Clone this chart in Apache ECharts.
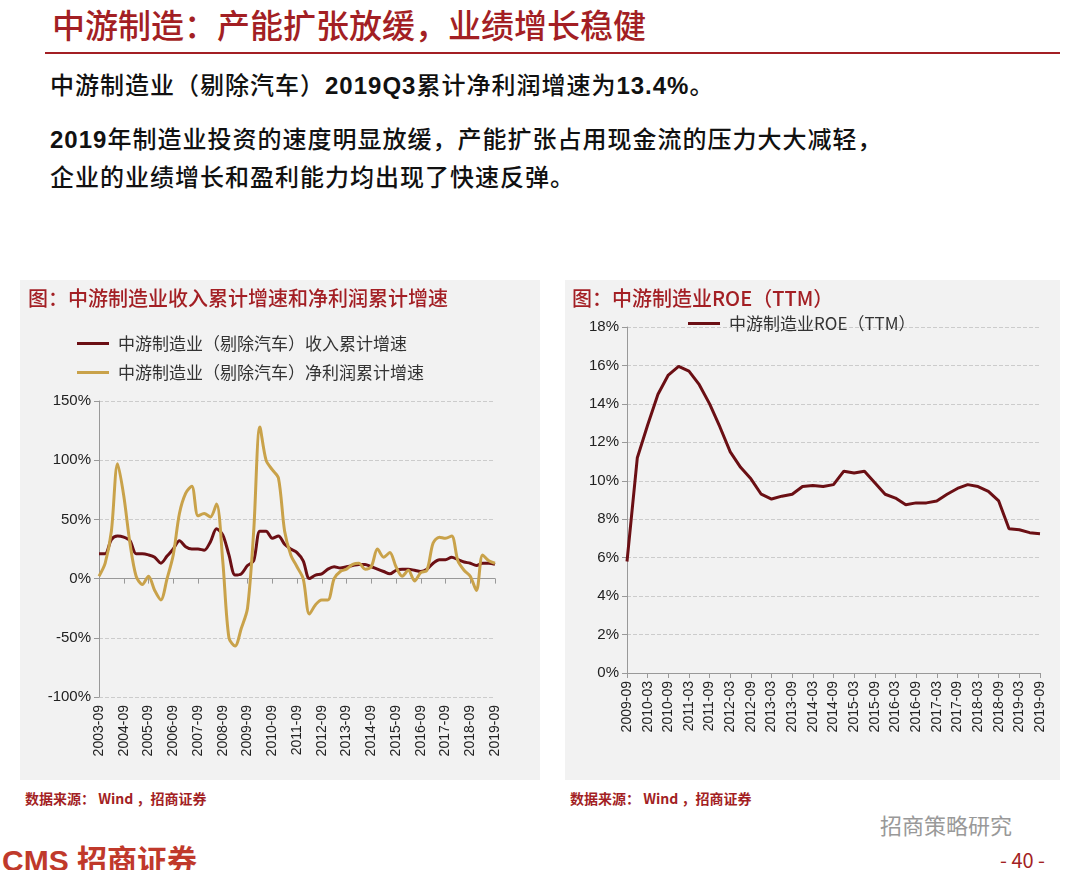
<!DOCTYPE html>
<html>
<head>
<meta charset="utf-8">
<script src="https://cdn.jsdelivr.net/npm/echarts@6/dist/echarts.min.js"></script>
<style>
  body { margin: 0; width: 1080px; height: 870px; background: #fff; font-family: "Noto Sans CJK SC", sans-serif; position: relative; overflow: hidden; }
  .abs { position: absolute; }
  #title { left: 52px; top: 0px; font-size: 33px; font-weight: 500; color: #a31f24; }
  #rule { left: 45px; top: 52px; width: 1015px; height: 2px; background: #a31f24; }
  .txt { font-size: 24px; font-weight: 500; color: #111; left: 50px; letter-spacing: 1px; }
  .txt b { font-family: "Liberation Sans"; }
  .panel { background: #f2f2f2; }
  .ptitle { font-size: 20px; color: #a31f24; font-weight: 500; }
  .src { font-size: 14px; font-weight: bold; color: #a31f24; }
</style>
</head>
<body>
<div class="abs" id="title">中游制造：产能扩张放缓，业绩增长稳健</div>
<div class="abs" id="rule"></div>
<div class="abs txt" style="top:66px">中游制造业（剔除汽车）<b>2019Q3</b>累计净利润增速为<b>13.4%</b>。</div>
<div class="abs txt" style="top:120px"><b>2019</b>年制造业投资的速度明显放缓，产能扩张占用现金流的压力大大减轻，</div>
<div class="abs txt" style="top:158px">企业的业绩增长和盈利能力均出现了快速反弹。</div>

<div class="abs panel" id="chart1" style="left:20px;top:280px;width:520px;height:500px"></div>
<div class="abs panel" id="chart2" style="left:565px;top:280px;width:495px;height:500px"></div>
<div class="abs ptitle" style="left:28px;top:283px">图：中游制造业收入累计增速和净利润累计增速</div>
<div class="abs ptitle" style="left:572px;top:283px">图：中游制造业ROE（TTM）</div>
<div class="abs src" style="left:25px;top:788px">数据来源： Wind ，招商证券</div>
<div class="abs src" style="left:570px;top:788px">数据来源： Wind ，招商证券</div>
<div class="abs" style="left:880px;top:808px;font-size:22px;color:#999">招商策略研究</div>
<div class="abs" style="left:2px;top:836px;font-size:30px;font-weight:bold;color:#c0392b;font-family:Arial">CMS <span style="font-family:'Noto Sans CJK SC'">招商证券</span></div>
<div class="abs" style="left:1000px;top:845px;font-size:20px;color:#a31f24">- 40 -</div>

<script>
// 左图：季度 2003-09 ~ 2019-09
var quarters1 = [];
for (var y = 2003; y <= 2019; y++) {
  ['03', '06', '09', '12'].forEach(function (m) {
    var k = y + '-' + m;
    if (k >= '2003-09' && k <= '2019-09') quarters1.push(k);
  });
}
var revenueGrowth = [21,21,33,36,35,32,21,21,20,18,13,19,25,32,27,25,25,24,31,42,37,20,3,4,11,15,40,40,34,36,29,25,22,15,0,3,4,8,10,9,10,11,12,12,10,8,6,4,7,8,8,7,6,8,13,16,16,18,16,14,13,11,13,13,12];
var profitGrowth = [2,13,40,97,70,30,2,-5,2,-10,-18,0,20,55,72,78,53,55,52,63,15,-50,-57,-42,-25,40,128,100,92,85,40,20,10,0,-30,-22,-18,-18,0,6,8,12,13,8,10,25,18,22,10,2,7,-2,5,7,30,35,34,36,15,7,2,-10,20,15,13];

// 右图：季度 2009-09 ~ 2019-09
var quarters2 = quarters1.slice(quarters1.indexOf('2009-09'));
var roeTTM = [5.8,11.2,12.9,14.5,15.5,15.95,15.7,15.0,14.0,12.8,11.5,10.7,10.1,9.3,9.05,9.2,9.3,9.7,9.75,9.7,9.8,10.5,10.4,10.5,9.9,9.3,9.1,8.75,8.85,8.85,8.95,9.3,9.6,9.8,9.7,9.45,8.95,7.5,7.45,7.3,7.25];

var axisLine = { lineStyle: { color: '#999' } };
var splitLine = { lineStyle: { type: 'dashed', color: '#ccc' } };
var labelFont = { color: '#222', fontSize: 15, fontFamily: 'Liberation Sans' };
var legendText = { fontSize: 17, color: '#333', fontFamily: 'Noto Sans CJK SC', padding: [0, 0, 0, 4] };

function renderGrowth() {
  var myChart = echarts.init(document.getElementById('chart1'));
  myChart.setOption({
    backgroundColor: 'transparent',
    animation: false,
    legend: {
      orient: 'vertical', left: 52, top: 50, itemGap: 12,
      itemWidth: 32, itemHeight: 3, icon: 'rect', textStyle: legendText
    },
    grid: { left: 79, right: 45, top: 121, bottom: 83 },
    xAxis: {
      type: 'category', data: quarters1, boundaryGap: false,
      axisLine: axisLine,
      axisTick: { interval: 3, lineStyle: { color: '#999' } },
      axisLabel: { interval: 3, rotate: 90, fontSize: 14, color: '#222', fontFamily: 'Liberation Sans' }
    },
    yAxis: {
      type: 'value', min: -100, max: 150, interval: 50,
      axisLine: { show: true, lineStyle: { color: '#999' } },
      axisTick: { show: true, lineStyle: { color: '#999' } },
      splitLine: splitLine,
      axisLabel: Object.assign({ formatter: '{value}%' }, labelFont)
    },
    series: [{
      name: '中游制造业（剔除汽车）收入累计增速', type: 'line', data: revenueGrowth,
      smooth: 0.3, symbol: 'none', lineStyle: { width: 3, color: '#6b0f14' }, itemStyle: { color: '#6b0f14' }
    }, {
      name: '中游制造业（剔除汽车）净利润累计增速', type: 'line', data: profitGrowth,
      smooth: 0.3, symbol: 'none', lineStyle: { width: 3, color: '#c9a24a' }, itemStyle: { color: '#c9a24a' }
    }]
  });
}

function renderRoe() {
  var myChart = echarts.init(document.getElementById('chart2'));
  myChart.setOption({
    backgroundColor: 'transparent',
    animation: false,
    legend: {
      left: 118, top: 30, itemWidth: 32, itemHeight: 3, icon: 'rect', textStyle: legendText
    },
    grid: { left: 62, right: 20, top: 47, bottom: 107 },
    xAxis: {
      type: 'category', data: quarters2, boundaryGap: false,
      axisLine: axisLine,
      axisTick: { interval: 1, lineStyle: { color: '#999' } },
      axisLabel: { interval: 1, rotate: 90, fontSize: 14, color: '#222', fontFamily: 'Liberation Sans' }
    },
    yAxis: {
      type: 'value', min: 0, max: 18, interval: 2,
      axisLine: { show: true, lineStyle: { color: '#999' } },
      axisTick: { show: true, lineStyle: { color: '#999' } },
      splitLine: splitLine,
      axisLabel: Object.assign({ formatter: '{value}%' }, labelFont)
    },
    series: [{
      name: '中游制造业ROE（TTM）', type: 'line', data: roeTTM,
      symbol: 'none', lineStyle: { width: 3, color: '#6b0f14' }, itemStyle: { color: '#6b0f14' }
    }]
  });
}

renderGrowth();
renderRoe();
</script>
</body>
</html>
